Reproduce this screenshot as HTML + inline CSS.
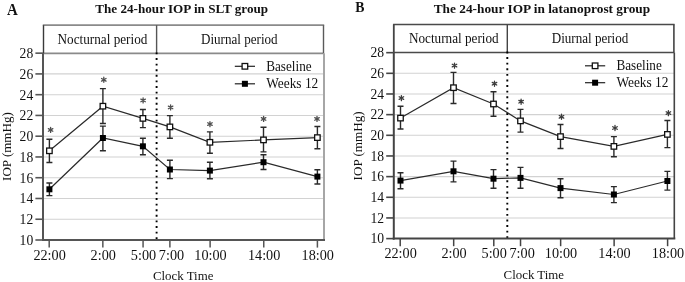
<!DOCTYPE html>
<html><head><meta charset="utf-8"><style>
html,body{margin:0;padding:0;background:#fff;}
svg{display:block;filter:grayscale(1);}
text{font-family:"Liberation Serif",serif;fill:#111;}
</style></head><body>
<svg width="685" height="282" viewBox="0 0 685 282">
<rect width="685" height="282" fill="#fff"/>
<line x1="43" y1="219.24" x2="324" y2="219.24" stroke="#d2d2d2" stroke-width="1.1"/>
<line x1="43" y1="198.48" x2="324" y2="198.48" stroke="#d2d2d2" stroke-width="1.1"/>
<line x1="43" y1="177.72" x2="324" y2="177.72" stroke="#d2d2d2" stroke-width="1.1"/>
<line x1="43" y1="156.96" x2="324" y2="156.96" stroke="#d2d2d2" stroke-width="1.1"/>
<line x1="43" y1="136.20" x2="324" y2="136.20" stroke="#d2d2d2" stroke-width="1.1"/>
<line x1="43" y1="115.44" x2="324" y2="115.44" stroke="#d2d2d2" stroke-width="1.1"/>
<line x1="43" y1="94.68" x2="324" y2="94.68" stroke="#d2d2d2" stroke-width="1.1"/>
<line x1="43" y1="73.92" x2="324" y2="73.92" stroke="#d2d2d2" stroke-width="1.1"/>
<line x1="42.8" y1="25.2" x2="324.2" y2="25.2" stroke="#8a8a8a" stroke-width="1.7"/>
<line x1="43" y1="53.3" x2="324" y2="53.3" stroke="#8a8a8a" stroke-width="1.7"/>
<line x1="43.5" y1="25.2" x2="43.5" y2="53.3" stroke="#3a3a3a" stroke-width="1.4"/>
<line x1="323.5" y1="25.2" x2="323.5" y2="53.3" stroke="#5a5a5a" stroke-width="1.4"/>
<line x1="324" y1="53.3" x2="324" y2="240" stroke="#a6a6a6" stroke-width="2"/>
<line x1="156.6" y1="25.2" x2="156.6" y2="53.3" stroke="#555" stroke-width="1.4"/>
<line x1="156.6" y1="52.45" x2="156.6" y2="240" stroke="#000" stroke-width="1.9" stroke-dasharray="1.9 3.7"/>
<line x1="43" y1="53.3" x2="43" y2="241" stroke="#555" stroke-width="2"/>
<line x1="42" y1="240" x2="325" y2="240" stroke="#555" stroke-width="2"/>
<line x1="35.4" y1="240.00" x2="43" y2="240.00" stroke="#555" stroke-width="1.6"/>
<text x="19.60" y="245.00" font-size="13.6">10</text>
<line x1="35.4" y1="219.24" x2="43" y2="219.24" stroke="#555" stroke-width="1.6"/>
<text x="19.60" y="224.24" font-size="13.6">12</text>
<line x1="35.4" y1="198.48" x2="43" y2="198.48" stroke="#555" stroke-width="1.6"/>
<text x="19.60" y="203.48" font-size="13.6">14</text>
<line x1="35.4" y1="177.72" x2="43" y2="177.72" stroke="#555" stroke-width="1.6"/>
<text x="19.60" y="182.72" font-size="13.6">16</text>
<line x1="35.4" y1="156.96" x2="43" y2="156.96" stroke="#555" stroke-width="1.6"/>
<text x="19.60" y="161.96" font-size="13.6">18</text>
<line x1="35.4" y1="136.20" x2="43" y2="136.20" stroke="#555" stroke-width="1.6"/>
<text x="19.60" y="141.20" font-size="13.6">20</text>
<line x1="35.4" y1="115.44" x2="43" y2="115.44" stroke="#555" stroke-width="1.6"/>
<text x="19.60" y="120.44" font-size="13.6">22</text>
<line x1="35.4" y1="94.68" x2="43" y2="94.68" stroke="#555" stroke-width="1.6"/>
<text x="19.60" y="99.68" font-size="13.6">24</text>
<line x1="35.4" y1="73.92" x2="43" y2="73.92" stroke="#555" stroke-width="1.6"/>
<text x="19.60" y="78.92" font-size="13.6">26</text>
<line x1="35.4" y1="53.16" x2="43" y2="53.16" stroke="#555" stroke-width="1.6"/>
<text x="19.60" y="58.16" font-size="13.6">28</text>
<line x1="49.20" y1="240" x2="49.20" y2="247.6" stroke="#555" stroke-width="1.5"/>
<text x="33.40" y="259.60" font-size="13.6" textLength="32.37" lengthAdjust="spacingAndGlyphs">22:00</text>
<line x1="102.84" y1="240" x2="102.84" y2="247.6" stroke="#555" stroke-width="1.5"/>
<text x="90.60" y="259.60" font-size="13.6" textLength="25.27" lengthAdjust="spacingAndGlyphs">2:00</text>
<line x1="143.07" y1="240" x2="143.07" y2="247.6" stroke="#555" stroke-width="1.5"/>
<text x="130.83" y="259.60" font-size="13.6" textLength="25.27" lengthAdjust="spacingAndGlyphs">5:00</text>
<line x1="169.89" y1="240" x2="169.89" y2="247.6" stroke="#555" stroke-width="1.5"/>
<text x="158.85" y="259.60" font-size="13.6" textLength="25.27" lengthAdjust="spacingAndGlyphs">7:00</text>
<line x1="210.12" y1="240" x2="210.12" y2="247.6" stroke="#555" stroke-width="1.5"/>
<text x="194.32" y="259.60" font-size="13.6" textLength="32.37" lengthAdjust="spacingAndGlyphs">10:00</text>
<line x1="263.76" y1="240" x2="263.76" y2="247.6" stroke="#555" stroke-width="1.5"/>
<text x="247.96" y="259.60" font-size="13.6" textLength="32.37" lengthAdjust="spacingAndGlyphs">14:00</text>
<line x1="317.40" y1="240" x2="317.40" y2="247.6" stroke="#555" stroke-width="1.5"/>
<text x="301.60" y="259.60" font-size="13.6" textLength="32.37" lengthAdjust="spacingAndGlyphs">18:00</text>
<text x="57.60" y="43.60" font-size="13.6" textLength="89.78" lengthAdjust="spacingAndGlyphs">Nocturnal period</text>
<text x="201.00" y="43.60" font-size="13.6" textLength="76.59" lengthAdjust="spacingAndGlyphs">Diurnal period</text>
<text x="152.90" y="279.80" font-size="13.2" textLength="60.48" lengthAdjust="spacingAndGlyphs">Clock Time</text>
<text transform="translate(11.2,180.90) rotate(-90)" x="0" y="0" font-size="13" textLength="68.68" lengthAdjust="spacingAndGlyphs">IOP (mmHg)</text>
<text x="95.30" y="13.10" font-size="13.2" font-weight="bold" textLength="172.81" lengthAdjust="spacingAndGlyphs">The 24-hour IOP in SLT group</text>
<text x="7.00" y="14.60" font-size="16" font-weight="bold" textLength="10.80" lengthAdjust="spacingAndGlyphs">A</text>
<line x1="234.8" y1="66.3" x2="255" y2="66.3" stroke="#222" stroke-width="1.2"/>
<rect x="242.10" y="63.50" width="5.6" height="5.6" fill="#fff" stroke="#111" stroke-width="1.3"/>
<line x1="234.8" y1="83.8" x2="255" y2="83.8" stroke="#222" stroke-width="1.2"/>
<rect x="241.90" y="80.80" width="6" height="6" fill="#000"/>
<text x="266.20" y="70.50" font-size="13.6" textLength="45.38" lengthAdjust="spacingAndGlyphs">Baseline</text>
<text x="266.20" y="88.40" font-size="13.6" textLength="52.11" lengthAdjust="spacingAndGlyphs">Weeks 12</text>
<polyline points="49.40,189.30 102.90,138.00 142.90,146.30 169.90,169.50 209.90,170.60 263.50,162.20 317.40,176.60" fill="none" stroke="#2a2a2a" stroke-width="1.2"/>
<path d="M49.40,183.00V195.60M46.40,183.00H52.40M46.40,195.60H52.40" stroke="#2a2a2a" stroke-width="1.4" fill="none"/>
<path d="M102.90,126.10V150.70M99.90,126.10H105.90M99.90,150.70H105.90" stroke="#2a2a2a" stroke-width="1.4" fill="none"/>
<path d="M142.90,138.20V154.80M139.90,138.20H145.90M139.90,154.80H145.90" stroke="#2a2a2a" stroke-width="1.4" fill="none"/>
<path d="M169.90,160.30V178.60M166.90,160.30H172.90M166.90,178.60H172.90" stroke="#2a2a2a" stroke-width="1.4" fill="none"/>
<path d="M209.90,162.30V178.70M206.90,162.30H212.90M206.90,178.70H212.90" stroke="#2a2a2a" stroke-width="1.4" fill="none"/>
<path d="M263.50,154.80V169.50M260.50,154.80H266.50M260.50,169.50H266.50" stroke="#2a2a2a" stroke-width="1.4" fill="none"/>
<path d="M317.40,169.80V184.00M314.40,169.80H320.40M314.40,184.00H320.40" stroke="#2a2a2a" stroke-width="1.4" fill="none"/>
<polyline points="49.40,150.80 102.90,106.20 142.90,118.40 169.90,126.90 209.90,142.30 263.50,139.90 317.40,137.60" fill="none" stroke="#2a2a2a" stroke-width="1.2"/>
<path d="M49.40,139.30V162.50M46.40,139.30H52.40M46.40,162.50H52.40" stroke="#2a2a2a" stroke-width="1.4" fill="none"/>
<path d="M102.90,88.60V123.50M99.90,88.60H105.90M99.90,123.50H105.90" stroke="#2a2a2a" stroke-width="1.4" fill="none"/>
<path d="M142.90,109.50V127.60M139.90,109.50H145.90M139.90,127.60H145.90" stroke="#2a2a2a" stroke-width="1.4" fill="none"/>
<path d="M169.90,115.60V138.20M166.90,115.60H172.90M166.90,138.20H172.90" stroke="#2a2a2a" stroke-width="1.4" fill="none"/>
<path d="M209.90,131.90V153.20M206.90,131.90H212.90M206.90,153.20H212.90" stroke="#2a2a2a" stroke-width="1.4" fill="none"/>
<path d="M263.50,127.30V151.90M260.50,127.30H266.50M260.50,151.90H266.50" stroke="#2a2a2a" stroke-width="1.4" fill="none"/>
<path d="M317.40,126.50V148.80M314.40,126.50H320.40M314.40,148.80H320.40" stroke="#2a2a2a" stroke-width="1.4" fill="none"/>
<rect x="46.40" y="186.30" width="6" height="6" fill="#000"/>
<rect x="99.90" y="135.00" width="6" height="6" fill="#000"/>
<rect x="139.90" y="143.30" width="6" height="6" fill="#000"/>
<rect x="166.90" y="166.50" width="6" height="6" fill="#000"/>
<rect x="206.90" y="167.60" width="6" height="6" fill="#000"/>
<rect x="260.50" y="159.20" width="6" height="6" fill="#000"/>
<rect x="314.40" y="173.60" width="6" height="6" fill="#000"/>
<rect x="46.65" y="148.05" width="5.5" height="5.5" fill="#fff" stroke="#111" stroke-width="1.3"/>
<rect x="100.15" y="103.45" width="5.5" height="5.5" fill="#fff" stroke="#111" stroke-width="1.3"/>
<rect x="140.15" y="115.65" width="5.5" height="5.5" fill="#fff" stroke="#111" stroke-width="1.3"/>
<rect x="167.15" y="124.15" width="5.5" height="5.5" fill="#fff" stroke="#111" stroke-width="1.3"/>
<rect x="207.15" y="139.55" width="5.5" height="5.5" fill="#fff" stroke="#111" stroke-width="1.3"/>
<rect x="260.75" y="137.15" width="5.5" height="5.5" fill="#fff" stroke="#111" stroke-width="1.3"/>
<rect x="314.65" y="134.85" width="5.5" height="5.5" fill="#fff" stroke="#111" stroke-width="1.3"/>
<path d="M50.60,127.35V132.45M48.35,128.60L52.85,131.20M48.35,131.20L52.85,128.60" stroke="#505050" stroke-width="1.3" stroke-linecap="round" fill="none"/>
<path d="M103.80,77.25V82.35M101.55,78.50L106.05,81.10M101.55,81.10L106.05,78.50" stroke="#505050" stroke-width="1.3" stroke-linecap="round" fill="none"/>
<path d="M143.10,97.85V102.95M140.85,99.10L145.35,101.70M140.85,101.70L145.35,99.10" stroke="#505050" stroke-width="1.3" stroke-linecap="round" fill="none"/>
<path d="M170.60,104.85V109.95M168.35,106.10L172.85,108.70M168.35,108.70L172.85,106.10" stroke="#505050" stroke-width="1.3" stroke-linecap="round" fill="none"/>
<path d="M209.95,121.55V126.65M207.70,122.80L212.20,125.40M207.70,125.40L212.20,122.80" stroke="#505050" stroke-width="1.3" stroke-linecap="round" fill="none"/>
<path d="M263.60,116.35V121.45M261.35,117.60L265.85,120.20M261.35,120.20L265.85,117.60" stroke="#505050" stroke-width="1.3" stroke-linecap="round" fill="none"/>
<path d="M317.00,116.35V121.45M314.75,117.60L319.25,120.20M314.75,120.20L319.25,117.60" stroke="#505050" stroke-width="1.3" stroke-linecap="round" fill="none"/>
<line x1="393.8" y1="217.94" x2="674.3" y2="217.94" stroke="#d2d2d2" stroke-width="1.1"/>
<line x1="393.8" y1="197.28" x2="674.3" y2="197.28" stroke="#d2d2d2" stroke-width="1.1"/>
<line x1="393.8" y1="176.62" x2="674.3" y2="176.62" stroke="#d2d2d2" stroke-width="1.1"/>
<line x1="393.8" y1="155.96" x2="674.3" y2="155.96" stroke="#d2d2d2" stroke-width="1.1"/>
<line x1="393.8" y1="135.30" x2="674.3" y2="135.30" stroke="#d2d2d2" stroke-width="1.1"/>
<line x1="393.8" y1="114.64" x2="674.3" y2="114.64" stroke="#d2d2d2" stroke-width="1.1"/>
<line x1="393.8" y1="93.98" x2="674.3" y2="93.98" stroke="#d2d2d2" stroke-width="1.1"/>
<line x1="393.8" y1="73.32" x2="674.3" y2="73.32" stroke="#d2d2d2" stroke-width="1.1"/>
<line x1="393.1" y1="24.4" x2="674.6" y2="24.4" stroke="#4a4a4a" stroke-width="1.5"/>
<line x1="393.8" y1="52.5" x2="674.3" y2="52.5" stroke="#4a4a4a" stroke-width="1.5"/>
<line x1="393.8" y1="24.4" x2="393.8" y2="52.5" stroke="#444" stroke-width="1.8"/>
<line x1="673.9" y1="24.4" x2="673.9" y2="52.5" stroke="#444" stroke-width="1.6"/>
<line x1="674.3" y1="52.5" x2="674.3" y2="238.6" stroke="#444" stroke-width="1.6"/>
<line x1="507.3" y1="24.4" x2="507.3" y2="52.5" stroke="#444" stroke-width="1.4"/>
<line x1="507.3" y1="51.5" x2="507.3" y2="238.6" stroke="#000" stroke-width="1.9" stroke-dasharray="1.9 3.7"/>
<line x1="393.8" y1="52.5" x2="393.8" y2="239.6" stroke="#444" stroke-width="2"/>
<line x1="392.8" y1="238.6" x2="675.3" y2="238.6" stroke="#444" stroke-width="2"/>
<line x1="386.2" y1="238.60" x2="393.8" y2="238.60" stroke="#444" stroke-width="1.6"/>
<text x="370.40" y="243.40" font-size="13.6">10</text>
<line x1="386.2" y1="217.94" x2="393.8" y2="217.94" stroke="#444" stroke-width="1.6"/>
<text x="370.40" y="222.74" font-size="13.6">12</text>
<line x1="386.2" y1="197.28" x2="393.8" y2="197.28" stroke="#444" stroke-width="1.6"/>
<text x="370.40" y="202.08" font-size="13.6">14</text>
<line x1="386.2" y1="176.62" x2="393.8" y2="176.62" stroke="#444" stroke-width="1.6"/>
<text x="370.40" y="181.42" font-size="13.6">16</text>
<line x1="386.2" y1="155.96" x2="393.8" y2="155.96" stroke="#444" stroke-width="1.6"/>
<text x="370.40" y="160.76" font-size="13.6">18</text>
<line x1="386.2" y1="135.30" x2="393.8" y2="135.30" stroke="#444" stroke-width="1.6"/>
<text x="370.40" y="140.10" font-size="13.6">20</text>
<line x1="386.2" y1="114.64" x2="393.8" y2="114.64" stroke="#444" stroke-width="1.6"/>
<text x="370.40" y="119.44" font-size="13.6">22</text>
<line x1="386.2" y1="93.98" x2="393.8" y2="93.98" stroke="#444" stroke-width="1.6"/>
<text x="370.40" y="98.78" font-size="13.6">24</text>
<line x1="386.2" y1="73.32" x2="393.8" y2="73.32" stroke="#444" stroke-width="1.6"/>
<text x="370.40" y="78.12" font-size="13.6">26</text>
<line x1="386.2" y1="52.66" x2="393.8" y2="52.66" stroke="#444" stroke-width="1.6"/>
<text x="370.40" y="57.46" font-size="13.6">28</text>
<line x1="400.20" y1="238.6" x2="400.20" y2="246.2" stroke="#444" stroke-width="1.5"/>
<text x="384.40" y="258.20" font-size="13.6" textLength="32.37" lengthAdjust="spacingAndGlyphs">22:00</text>
<line x1="453.68" y1="238.6" x2="453.68" y2="246.2" stroke="#444" stroke-width="1.5"/>
<text x="441.44" y="258.20" font-size="13.6" textLength="25.27" lengthAdjust="spacingAndGlyphs">2:00</text>
<line x1="493.79" y1="238.6" x2="493.79" y2="246.2" stroke="#444" stroke-width="1.5"/>
<text x="481.55" y="258.20" font-size="13.6" textLength="25.27" lengthAdjust="spacingAndGlyphs">5:00</text>
<line x1="520.53" y1="238.6" x2="520.53" y2="246.2" stroke="#444" stroke-width="1.5"/>
<text x="509.49" y="258.20" font-size="13.6" textLength="25.27" lengthAdjust="spacingAndGlyphs">7:00</text>
<line x1="560.64" y1="238.6" x2="560.64" y2="246.2" stroke="#444" stroke-width="1.5"/>
<text x="544.84" y="258.20" font-size="13.6" textLength="32.37" lengthAdjust="spacingAndGlyphs">10:00</text>
<line x1="614.12" y1="238.6" x2="614.12" y2="246.2" stroke="#444" stroke-width="1.5"/>
<text x="598.32" y="258.20" font-size="13.6" textLength="32.37" lengthAdjust="spacingAndGlyphs">14:00</text>
<line x1="667.60" y1="238.6" x2="667.60" y2="246.2" stroke="#444" stroke-width="1.5"/>
<text x="651.80" y="258.20" font-size="13.6" textLength="32.37" lengthAdjust="spacingAndGlyphs">18:00</text>
<text x="408.90" y="42.80" font-size="13.6" textLength="89.78" lengthAdjust="spacingAndGlyphs">Nocturnal period</text>
<text x="551.70" y="42.80" font-size="13.6" textLength="76.59" lengthAdjust="spacingAndGlyphs">Diurnal period</text>
<text x="503.60" y="278.50" font-size="13.2" textLength="60.48" lengthAdjust="spacingAndGlyphs">Clock Time</text>
<text transform="translate(362.4,180.40) rotate(-90)" x="0" y="0" font-size="13" textLength="68.98" lengthAdjust="spacingAndGlyphs">IOP (mmHg)</text>
<text x="433.70" y="13.10" font-size="13.2" font-weight="bold" textLength="216.50" lengthAdjust="spacingAndGlyphs">The 24-hour IOP in latanoprost group</text>
<text x="355.20" y="12.40" font-size="15.5" font-weight="bold" textLength="9.19" lengthAdjust="spacingAndGlyphs">B</text>
<line x1="585" y1="65.8" x2="605.2" y2="65.8" stroke="#222" stroke-width="1.2"/>
<rect x="592.30" y="63.00" width="5.6" height="5.6" fill="#fff" stroke="#111" stroke-width="1.3"/>
<line x1="585" y1="82.7" x2="605.2" y2="82.7" stroke="#222" stroke-width="1.2"/>
<rect x="592.10" y="79.70" width="6" height="6" fill="#000"/>
<text x="616.40" y="70.00" font-size="13.6" textLength="45.38" lengthAdjust="spacingAndGlyphs">Baseline</text>
<text x="616.40" y="87.30" font-size="13.6" textLength="52.11" lengthAdjust="spacingAndGlyphs">Weeks 12</text>
<polyline points="400.50,180.60 453.50,171.30 493.50,178.70 520.50,177.90 560.50,188.10 613.90,194.50 667.40,181.00" fill="none" stroke="#2a2a2a" stroke-width="1.2"/>
<path d="M400.50,172.80V188.70M397.50,172.80H403.50M397.50,188.70H403.50" stroke="#2a2a2a" stroke-width="1.4" fill="none"/>
<path d="M453.50,161.10V181.90M450.50,161.10H456.50M450.50,181.90H456.50" stroke="#2a2a2a" stroke-width="1.4" fill="none"/>
<path d="M493.50,169.60V188.30M490.50,169.60H496.50M490.50,188.30H496.50" stroke="#2a2a2a" stroke-width="1.4" fill="none"/>
<path d="M520.50,167.40V188.30M517.50,167.40H523.50M517.50,188.30H523.50" stroke="#2a2a2a" stroke-width="1.4" fill="none"/>
<path d="M560.50,178.70V197.70M557.50,178.70H563.50M557.50,197.70H563.50" stroke="#2a2a2a" stroke-width="1.4" fill="none"/>
<path d="M613.90,186.60V202.60M610.90,186.60H616.90M610.90,202.60H616.90" stroke="#2a2a2a" stroke-width="1.4" fill="none"/>
<path d="M667.40,171.40V190.10M664.40,171.40H670.40M664.40,190.10H670.40" stroke="#2a2a2a" stroke-width="1.4" fill="none"/>
<polyline points="400.50,118.10 453.50,87.70 493.50,104.00 520.50,120.90 560.50,136.60 613.90,146.40 667.40,134.40" fill="none" stroke="#2a2a2a" stroke-width="1.2"/>
<path d="M400.50,106.30V129.00M397.50,106.30H403.50M397.50,129.00H403.50" stroke="#2a2a2a" stroke-width="1.4" fill="none"/>
<path d="M453.50,72.40V103.50M450.50,72.40H456.50M450.50,103.50H456.50" stroke="#2a2a2a" stroke-width="1.4" fill="none"/>
<path d="M493.50,91.70V116.20M490.50,91.70H496.50M490.50,116.20H496.50" stroke="#2a2a2a" stroke-width="1.4" fill="none"/>
<path d="M520.50,109.40V132.10M517.50,109.40H523.50M517.50,132.10H523.50" stroke="#2a2a2a" stroke-width="1.4" fill="none"/>
<path d="M560.50,124.50V148.50M557.50,124.50H563.50M557.50,148.50H563.50" stroke="#2a2a2a" stroke-width="1.4" fill="none"/>
<path d="M613.90,136.60V156.80M610.90,136.60H616.90M610.90,156.80H616.90" stroke="#2a2a2a" stroke-width="1.4" fill="none"/>
<path d="M667.40,120.50V147.60M664.40,120.50H670.40M664.40,147.60H670.40" stroke="#2a2a2a" stroke-width="1.4" fill="none"/>
<rect x="397.50" y="177.60" width="6" height="6" fill="#000"/>
<rect x="450.50" y="168.30" width="6" height="6" fill="#000"/>
<rect x="490.50" y="175.70" width="6" height="6" fill="#000"/>
<rect x="517.50" y="174.90" width="6" height="6" fill="#000"/>
<rect x="557.50" y="185.10" width="6" height="6" fill="#000"/>
<rect x="610.90" y="191.50" width="6" height="6" fill="#000"/>
<rect x="664.40" y="178.00" width="6" height="6" fill="#000"/>
<rect x="397.75" y="115.35" width="5.5" height="5.5" fill="#fff" stroke="#111" stroke-width="1.3"/>
<rect x="450.75" y="84.95" width="5.5" height="5.5" fill="#fff" stroke="#111" stroke-width="1.3"/>
<rect x="490.75" y="101.25" width="5.5" height="5.5" fill="#fff" stroke="#111" stroke-width="1.3"/>
<rect x="517.75" y="118.15" width="5.5" height="5.5" fill="#fff" stroke="#111" stroke-width="1.3"/>
<rect x="557.75" y="133.85" width="5.5" height="5.5" fill="#fff" stroke="#111" stroke-width="1.3"/>
<rect x="611.15" y="143.65" width="5.5" height="5.5" fill="#fff" stroke="#111" stroke-width="1.3"/>
<rect x="664.65" y="131.65" width="5.5" height="5.5" fill="#fff" stroke="#111" stroke-width="1.3"/>
<path d="M401.40,95.55V100.65M399.15,96.80L403.65,99.40M399.15,99.40L403.65,96.80" stroke="#3c3c3c" stroke-width="1.3" stroke-linecap="round" fill="none"/>
<path d="M454.50,63.05V68.15M452.25,64.30L456.75,66.90M452.25,66.90L456.75,64.30" stroke="#3c3c3c" stroke-width="1.3" stroke-linecap="round" fill="none"/>
<path d="M494.50,81.15V86.25M492.25,82.40L496.75,85.00M492.25,85.00L496.75,82.40" stroke="#3c3c3c" stroke-width="1.3" stroke-linecap="round" fill="none"/>
<path d="M521.10,99.15V104.25M518.85,100.40L523.35,103.00M518.85,103.00L523.35,100.40" stroke="#3c3c3c" stroke-width="1.3" stroke-linecap="round" fill="none"/>
<path d="M561.50,114.25V119.35M559.25,115.50L563.75,118.10M559.25,118.10L563.75,115.50" stroke="#3c3c3c" stroke-width="1.3" stroke-linecap="round" fill="none"/>
<path d="M615.00,125.45V130.55M612.75,126.70L617.25,129.30M612.75,129.30L617.25,126.70" stroke="#3c3c3c" stroke-width="1.3" stroke-linecap="round" fill="none"/>
<path d="M668.40,110.55V115.65M666.15,111.80L670.65,114.40M666.15,114.40L670.65,111.80" stroke="#3c3c3c" stroke-width="1.3" stroke-linecap="round" fill="none"/>
</svg>
</body></html>
